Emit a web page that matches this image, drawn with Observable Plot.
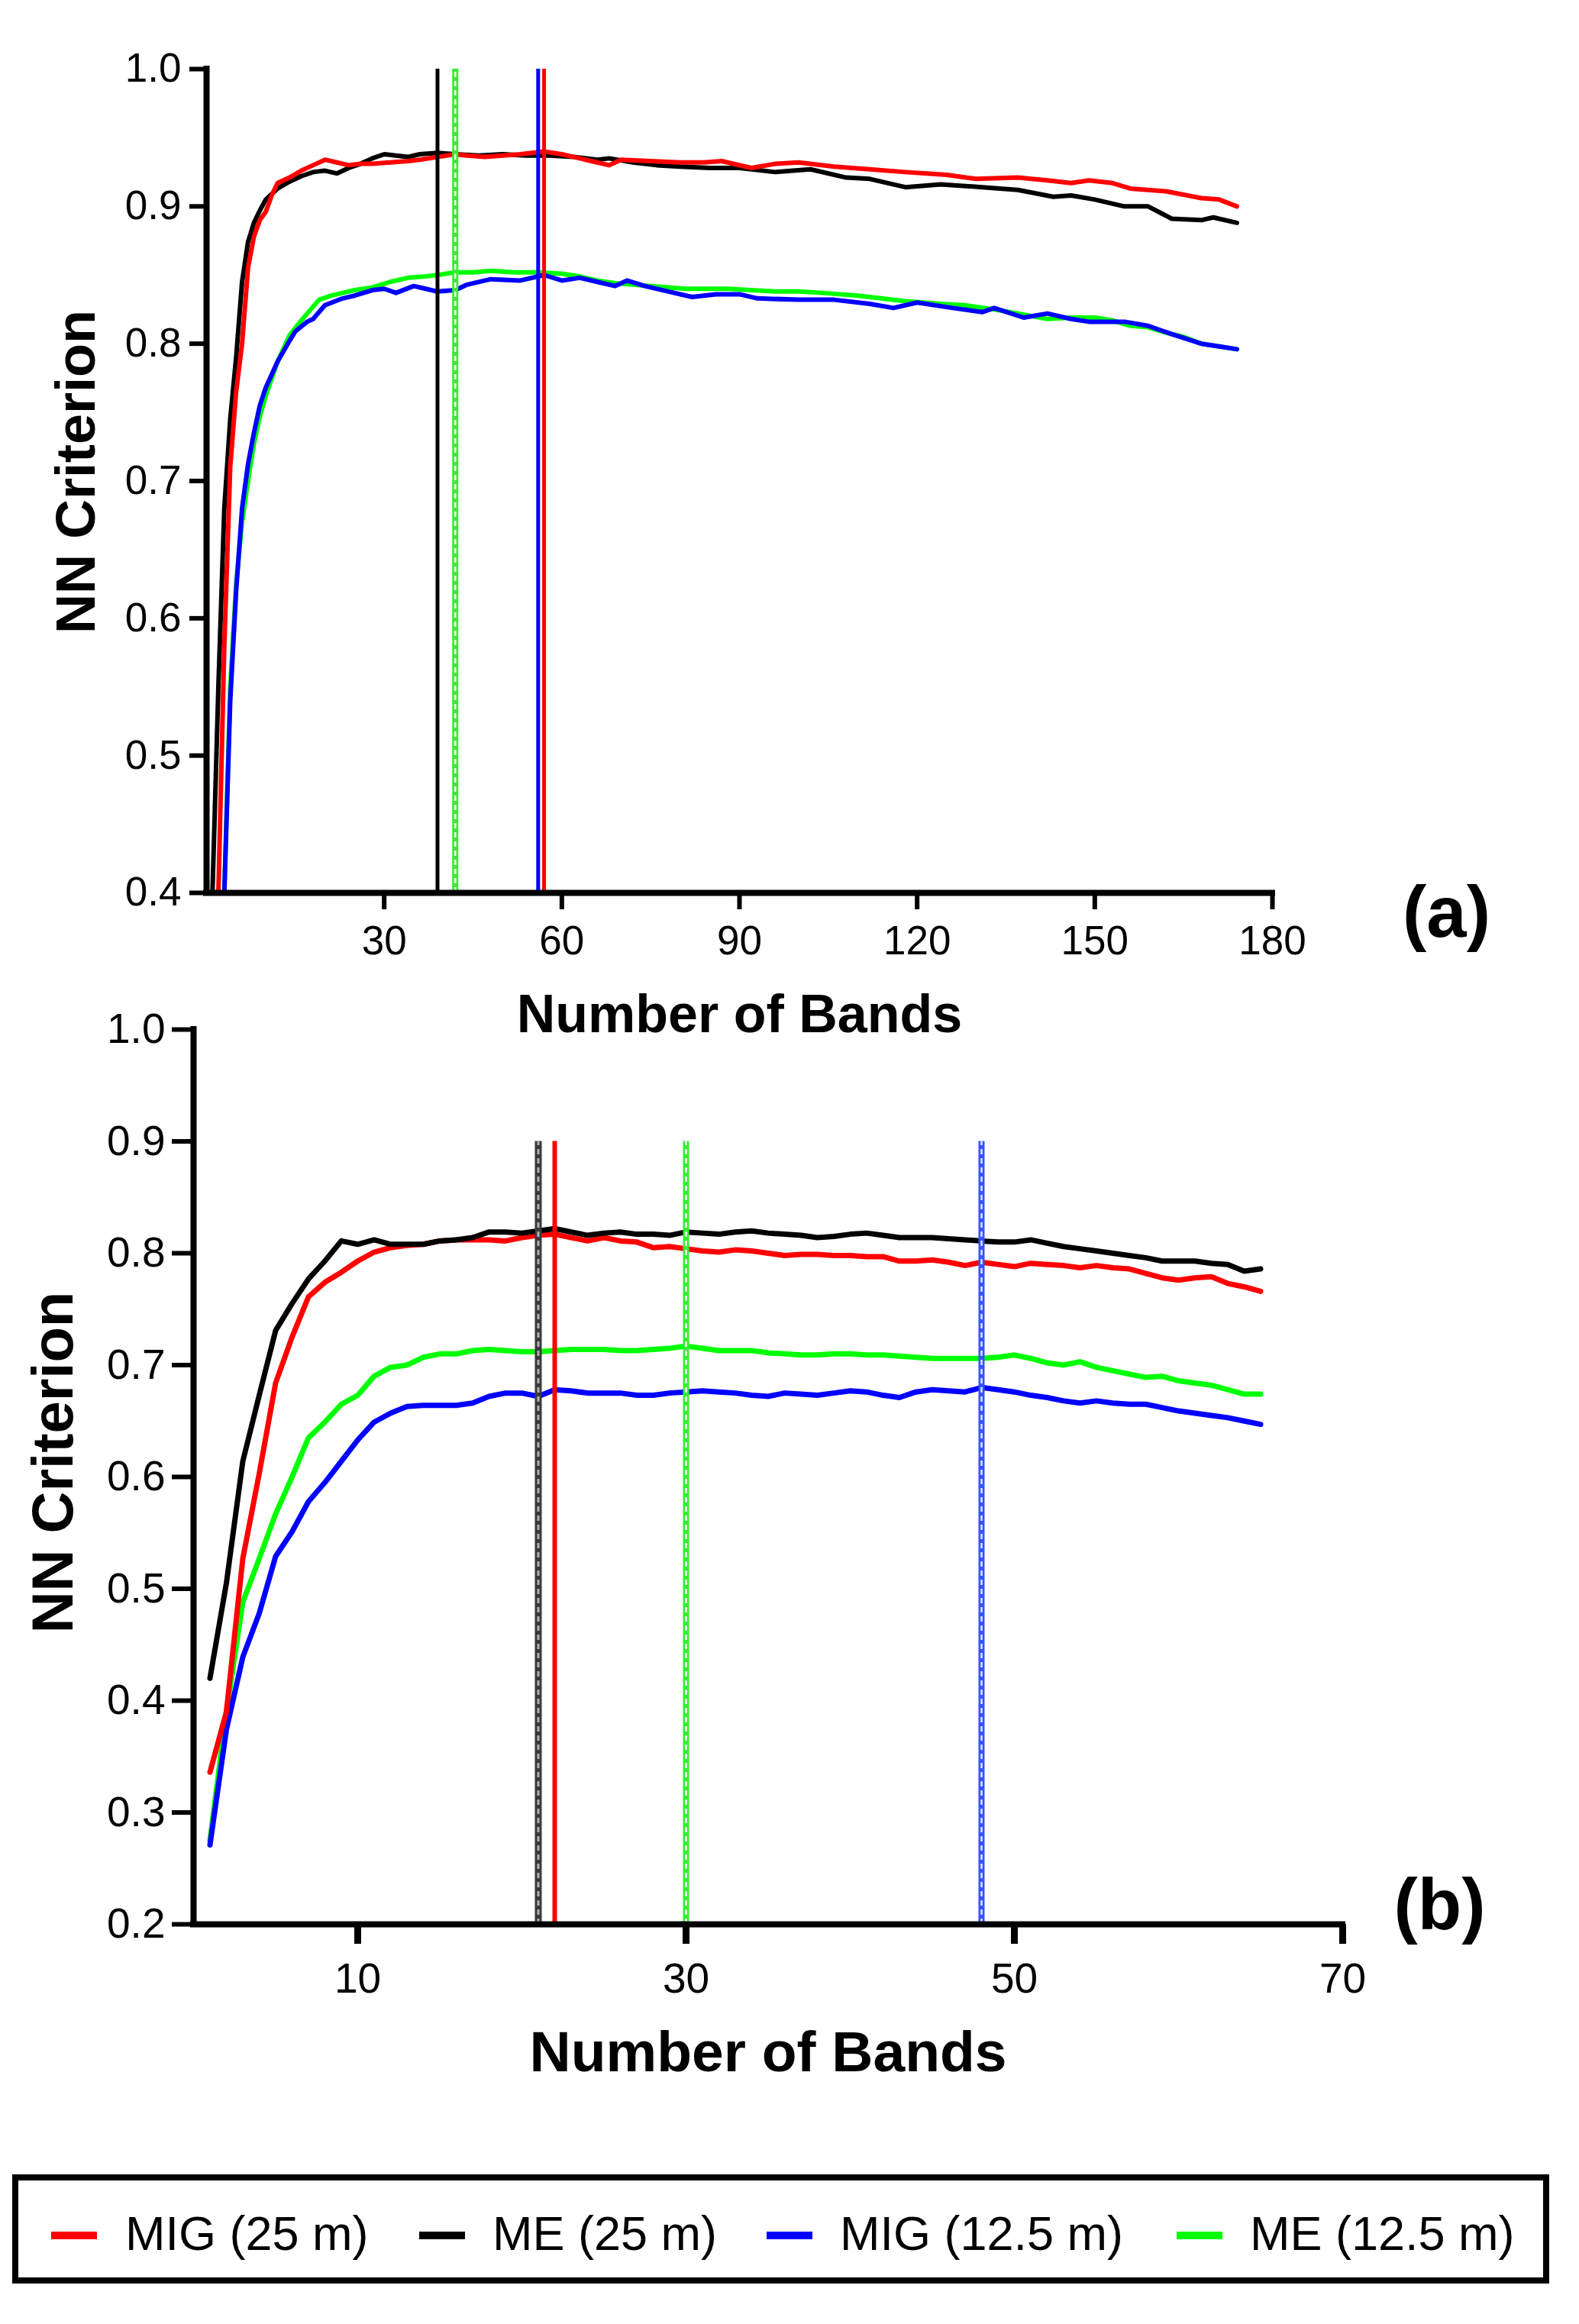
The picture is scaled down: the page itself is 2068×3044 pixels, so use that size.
<!DOCTYPE html>
<html><head><meta charset="utf-8">
<script src="https://cdn.jsdelivr.net/npm/d3@7"></script>
<script src="https://cdn.jsdelivr.net/npm/@observablehq/plot@0.6"></script>
<style>
body{margin:0;background:#fff;}
#wrap{position:relative;width:2068px;height:3044px;background:#fff;font-family:"Liberation Sans",Arial,sans-serif;overflow:hidden;}
#wrap svg{position:absolute;left:0;overflow:visible;}
#legend{position:absolute;left:16px;top:2848px;width:2013px;height:143px;border:8px solid #000;box-sizing:border-box;}
.sw{position:absolute;top:67px;width:60px;height:10px;}
.lt{position:absolute;top:38px;font-size:63px;line-height:1;white-space:nowrap;color:#000;}
</style></head><body><div id="wrap"><div id="legend"></div></div>
<script>
// ---------- Panel (a) data ----------
const aMIG25Bands = [2,3,4,5,6,7,8,9,10,11,12,14,16,18,20,22,24,26,28,31,34,36,39,42,44,47,50,53,57,60,62,65,68,70,75,80,84,87,92,96,100,106,112,118,125,130,137,142,146,149,153,156,162,168,171,174];
const aMIG25 = [0.40,0.58,0.71,0.765,0.80,0.855,0.878,0.89,0.896,0.908,0.917,0.921,0.926,0.930,0.934,0.932,0.930,0.931,0.931,0.932,0.933,0.934,0.936,0.938,0.937,0.936,0.937,0.938,0.940,0.938,0.936,0.933,0.930,0.934,0.933,0.932,0.932,0.933,0.928,0.931,0.932,0.929,0.927,0.925,0.923,0.920,0.921,0.919,0.917,0.919,0.917,0.913,0.911,0.906,0.905,0.900];
const aME25Bands = [1,2,3,4,5,6,7,8,9,10,12,14,16,18,20,22,24,26,28,30,32,34,36,39,42,46,50,54,58,62,66,68,72,76,80,85,90,96,102,108,112,118,124,131,137,143,146,150,155,159,163,168,170,174];
const aME25 = [0.40,0.55,0.68,0.745,0.79,0.845,0.874,0.888,0.897,0.905,0.913,0.918,0.922,0.925,0.926,0.924,0.928,0.931,0.935,0.938,0.937,0.936,0.938,0.939,0.938,0.937,0.938,0.937,0.937,0.936,0.934,0.935,0.932,0.930,0.929,0.928,0.928,0.925,0.927,0.921,0.920,0.914,0.916,0.914,0.912,0.907,0.908,0.905,0.900,0.900,0.891,0.890,0.892,0.888];
const aMIG125Bands = [3,4,5,6,7,8,9,10,12,14,15,17,18,20,23,25,28,30,32,35,37,39,42,44,48,53,57,60,63,66,69,71,74,78,82,86,90,93,100,106,112,116,120,126,131,133,138,142,146,149,155,159,163,168,171,174];
const aMIG125 = [0.40,0.54,0.62,0.68,0.712,0.735,0.755,0.768,0.787,0.802,0.809,0.816,0.818,0.828,0.833,0.835,0.839,0.840,0.837,0.842,0.840,0.838,0.839,0.843,0.847,0.846,0.850,0.846,0.848,0.845,0.842,0.846,0.842,0.838,0.834,0.836,0.836,0.833,0.832,0.832,0.829,0.826,0.830,0.826,0.823,0.826,0.819,0.822,0.818,0.816,0.816,0.813,0.807,0.800,0.798,0.796];
const aME125Bands = [3,4,5,6,7,8,9,10,12,14,16,19,21,23,25,28,31,34,37,39,42,45,48,52,56,60,63,66,69,72,75,78,81,85,88,92,96,100,104,110,118,124,128,133,137,142,146,150,153,156,159,162,165,168,171,174];
const aME125 = [0.40,0.55,0.625,0.67,0.70,0.727,0.747,0.762,0.787,0.806,0.817,0.832,0.835,0.837,0.839,0.841,0.845,0.848,0.849,0.850,0.852,0.852,0.853,0.852,0.852,0.851,0.849,0.846,0.844,0.843,0.842,0.841,0.840,0.840,0.840,0.839,0.838,0.838,0.837,0.835,0.831,0.829,0.828,0.825,0.822,0.818,0.819,0.819,0.817,0.813,0.812,0.808,0.805,0.800,0.798,0.796];
// selected band counts (vertical lines): MIG25, ME25, MIG12.5, ME12.5
const aSelected = [57, 39, 56, 42];
const aXTicks = [30, 60, 90, 120, 150, 180];
const aYTicks = [0.4, 0.5, 0.6, 0.7, 0.8, 0.9, 1.0];

// ---------- Panel (b) data ----------
const bBands = [1,2,3,4,5,6,7,8,9,10,11,12,13,14,15,16,17,18,19,20,21,22,23,24,25,26,27,28,29,30,31,32,33,34,35,36,37,38,39,40,41,42,43,44,45,46,47,48,49,50,51,52,53,54,55,56,57,58,59,60,61,62,63,64,65];
const bMIG25 = [0.336,0.390,0.527,0.603,0.684,0.725,0.761,0.774,0.783,0.793,0.801,0.805,0.807,0.808,0.811,0.812,0.812,0.812,0.811,0.814,0.816,0.817,0.814,0.811,0.814,0.811,0.810,0.805,0.806,0.804,0.802,0.801,0.803,0.802,0.800,0.798,0.799,0.799,0.798,0.798,0.797,0.797,0.793,0.793,0.794,0.792,0.789,0.792,0.790,0.788,0.791,0.790,0.789,0.787,0.789,0.787,0.786,0.782,0.778,0.776,0.778,0.779,0.773,0.770,0.766];
const bME25 = [0.420,0.505,0.614,0.673,0.731,0.755,0.777,0.793,0.811,0.808,0.812,0.808,0.808,0.808,0.811,0.812,0.814,0.819,0.819,0.818,0.820,0.822,0.819,0.816,0.818,0.819,0.817,0.817,0.816,0.819,0.818,0.817,0.819,0.820,0.818,0.817,0.816,0.814,0.815,0.817,0.818,0.816,0.814,0.814,0.814,0.813,0.812,0.811,0.810,0.810,0.812,0.809,0.806,0.804,0.802,0.800,0.798,0.796,0.793,0.793,0.793,0.791,0.790,0.784,0.786];
const bMIG125 = [0.271,0.374,0.439,0.478,0.529,0.551,0.578,0.595,0.614,0.633,0.649,0.657,0.663,0.664,0.664,0.664,0.666,0.672,0.675,0.675,0.672,0.678,0.677,0.675,0.675,0.675,0.673,0.673,0.675,0.676,0.677,0.676,0.675,0.673,0.672,0.675,0.674,0.673,0.675,0.677,0.676,0.673,0.671,0.676,0.678,0.677,0.676,0.680,0.678,0.676,0.673,0.671,0.668,0.666,0.668,0.666,0.665,0.665,0.662,0.659,0.657,0.655,0.653,0.650,0.647];
const bME125 = [0.275,0.390,0.488,0.527,0.567,0.600,0.635,0.649,0.665,0.673,0.690,0.698,0.700,0.707,0.710,0.710,0.713,0.714,0.713,0.712,0.712,0.713,0.714,0.714,0.714,0.713,0.713,0.714,0.715,0.717,0.715,0.713,0.713,0.713,0.711,0.710,0.709,0.709,0.710,0.710,0.709,0.709,0.708,0.707,0.706,0.706,0.706,0.706,0.707,0.709,0.706,0.702,0.700,0.703,0.698,0.695,0.692,0.689,0.690,0.686,0.684,0.682,0.678,0.674,0.674];
const bSelected = [22, 21, 48, 30];
const bXTicks = [10, 30, 50, 70];
const bYTicks = [0.2, 0.3, 0.4, 0.5, 0.6, 0.7, 0.8, 0.9, 1.0];

const seriesNames = ["MIG (25 m)", "ME (25 m)", "MIG (12.5 m)", "ME (12.5 m)"];
const seriesColors = ["#ff0000", "#000000", "#0000ff", "#00ff00"];

const rows = (bands, vals) => bands.map((b, i) => ({band: b, v: vals[i]}));
const FONT = "'Liberation Sans', Arial, Helvetica, sans-serif";

// vertical marker: solid or "double" (coloured outline with light dashed core)
function vmark(x, y1, y2, st) {
  const m = [Plot.ruleX([x], {y1, y2, stroke: st.outer, strokeWidth: st.w})];
  if (st.inner) m.push(Plot.ruleX([x], {y1, y2, stroke: st.inner, strokeWidth: st.iw, strokeDasharray: st.dash}));
  return m;
}

function panel(cfg) {
  const lines = cfg.order.map(i => Plot.line(rows(cfg.bands[i], cfg.vals[i]), {
    x: "band", y: "v", stroke: seriesColors[i], strokeWidth: cfg.lw, strokeLinejoin: "round"
  }));
  const vm = [];
  cfg.selected.forEach((s, i) => vm.push(...vmark(s, cfg.vy1, cfg.vy2, cfg.vstyle[i])));
  const svg = Plot.plot({
    width: 2068, height: cfg.height,
    marginLeft: cfg.ml, marginRight: cfg.mr, marginTop: cfg.mt, marginBottom: cfg.mb,
    style: {fontFamily: FONT, background: "transparent", overflow: "visible", color: "#000"},
    x: {domain: cfg.xdom},
    y: {domain: cfg.ydom},
    marks: [
      ...lines,
      ...vm,
      Plot.axisY({ticks: cfg.yticks, tickFormat: d3.format(".1f"), tickSize: cfg.ytick, tickPadding: cfg.ypad, fontSize: cfg.fs, strokeWidth: 6, label: null}),
      Plot.axisX({ticks: cfg.xticks, tickFormat: d3.format("d"), tickSize: cfg.xtick, tickPadding: cfg.xpad, fontSize: cfg.fs, strokeWidth: cfg.xtw, label: null}),
      Plot.ruleX([cfg.xdom[0]], {y1: cfg.ydom[0], y2: cfg.ydom[1], strokeWidth: 8, stroke: "#000", strokeLinecap: "square"}),
      Plot.ruleY([cfg.ydom[0]], {x1: cfg.xdom[0], x2: cfg.xdom[1], strokeWidth: 8, stroke: "#000", strokeLinecap: "square"}),
      Plot.text(["Number of Bands"], {frameAnchor: "bottom", dy: cfg.xlabDy, fontSize: cfg.labfs, fontWeight: "bold", lineAnchor: "middle", fill: "#000"}),
      Plot.text(["NN Criterion"], {frameAnchor: "left", dx: cfg.ylabDx, dy: cfg.ylabDy, rotate: -90, fontSize: cfg.ylabfs, fontWeight: "bold", lineAnchor: "middle", textAnchor: "middle", fill: "#000"}),
      Plot.text([cfg.tag], {frameAnchor: "bottom-right", dx: cfg.tagDx, dy: cfg.tagDy, fontSize: 94, fontWeight: "bold", lineAnchor: "middle", textAnchor: "middle", fill: "#000"})
    ]
  });
  svg.style.top = cfg.top + "px";
  document.getElementById("wrap").appendChild(svg);
}

const greenDouble = {outer: "#33ee33", w: 8, inner: "#ffffff", iw: 2.5, dash: "7,5"};

panel({
  top: 0, height: 1380, ml: 270, mr: 402, mt: 90, mb: 211,
  xdom: [0, 180], ydom: [0.4, 1.0], xticks: aXTicks, yticks: aYTicks,
  bands: [aMIG25Bands, aME25Bands, aMIG125Bands, aME125Bands],
  vals: [aMIG25, aME25, aMIG125, aME125],
  order: [3, 2, 1, 0], lw: 6,
  selected: aSelected, vy1: 0.4, vy2: 1.0,
  vstyle: [
    {outer: "#ff0000", w: 5},
    {outer: "#000000", w: 5},
    {outer: "#0000ff", w: 5},
    greenDouble
  ],
  fs: 53, ytick: 22, ypad: 11, xtick: 22, xpad: 21, xtw: 6,
  xlabDy: 160, labfs: 70, ylabDx: -170, ylabDy: -12, ylabfs: 72,
  tag: "(a)", tagDx: 228, tagDy: 27
});

panel({
  top: 1290, height: 1480, ml: 253, mr: 310, mt: 58, mb: 250,
  xdom: [0, 70], ydom: [0.2, 1.0], xticks: bXTicks, yticks: bYTicks,
  bands: [bBands, bBands, bBands, bBands],
  vals: [bMIG25, bME25, bMIG125, bME125],
  order: [3, 2, 0, 1], lw: 7,
  selected: bSelected, vy1: 0.2, vy2: 0.9,
  vstyle: [
    {outer: "#ff0000", w: 6},
    {outer: "#3a3a3a", w: 9, inner: "#b0b0b0", iw: 3, dash: "7,5"},
    {outer: "#3355ff", w: 8, inner: "#dde4ff", iw: 2.5, dash: "7,5"},
    greenDouble
  ],
  fs: 55, ytick: 28, ypad: 9, xtick: 26, xpad: 24, xtw: 9,
  xlabDy: 168, labfs: 75, ylabDx: -183, ylabDy: -19, ylabfs: 76,
  tag: "(b)", tagDx: 127, tagDy: -24
});

// ---------- Legend (HTML, below the charts) ----------
const legend = document.getElementById("legend");
const swX = [43, 525, 980, 1517];
const txX = [140, 621, 1076, 1613];
seriesNames.forEach((name, i) => {
  const sw = document.createElement("div");
  sw.className = "sw"; sw.style.left = swX[i] + "px"; sw.style.background = seriesColors[i];
  legend.appendChild(sw);
  const t = document.createElement("div");
  t.className = "lt"; t.style.left = txX[i] + "px"; t.textContent = name;
  legend.appendChild(t);
});
</script>
</body></html>
